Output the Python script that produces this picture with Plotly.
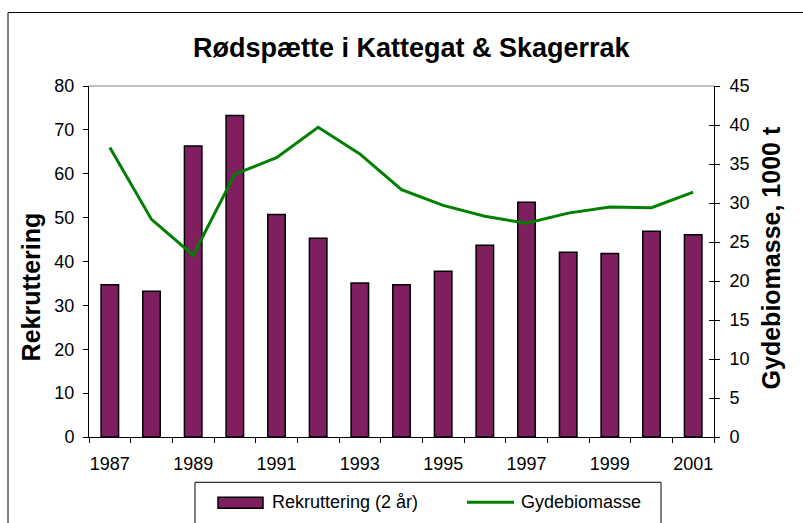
import plotly.graph_objects as go

# Rødspætte (plaice) in Kattegat & Skagerrak
years = list(range(1987, 2002))
rekruttering = [34.7, 33.2, 66.3, 73.3, 50.7, 45.3, 35.1, 34.7, 37.8, 43.7,
                53.5, 42.1, 41.8, 46.9, 46.1]
gydebiomasse = [37.1, 27.9, 23.3, 33.7, 35.8, 39.7, 36.3, 31.7, 29.7, 28.3,
                27.4, 28.7, 29.5, 29.4, 31.4]
label_years = [1987, 1989, 1991, 1993, 1995, 1997, 1999, 2001]
left_ticks = [0, 10, 20, 30, 40, 50, 60, 70, 80]
right_ticks = [0, 5, 10, 15, 20, 25, 30, 35, 40, 45]

W, H = 803, 523
PL, PR, PT, PB = 89, 714, 85.5, 436.7  # plot-area edges in pixels

BAR_COLOR = "#7F1F5F"
LINE_COLOR = "#008000"
FONT = "Liberation Sans, Arial, sans-serif"
TICK_SIZE = 18


def xp(px):
    return (px - PL) / (PR - PL)


def yp(py):
    return (PB - py) / (PB - PT)


fig = go.Figure()
fig.add_trace(go.Bar(
    x=years, y=rekruttering, name="Rekruttering (2 år)",
    marker=dict(color=BAR_COLOR, line=dict(color="black", width=1.5)),
    width=0.42, yaxis="y", xaxis="x",
))
fig.add_trace(go.Scatter(
    x=years, y=gydebiomasse, name="Gydebiomasse", mode="lines",
    line=dict(color=LINE_COLOR, width=3), yaxis="y2", xaxis="x",
))
# carrier for the inward half of the right-hand tick marks
fig.add_trace(go.Scatter(
    x=[years[0]], y=[None], yaxis="y3", xaxis="x", showlegend=False,
    hoverinfo="skip", mode="lines",
))

boundaries = [y - 0.5 for y in years] + [years[-1] + 0.5]

fig.update_layout(
    width=W, height=H,
    margin=dict(l=PL, r=W - PR, t=PT, b=H - PB),
    paper_bgcolor="white", plot_bgcolor="white",
    showlegend=False,
    font=dict(family=FONT, size=TICK_SIZE, color="black"),
    xaxis=dict(
        range=[1986.5, 2001.5], tickmode="array", tickvals=label_years,
        ticktext=[str(v) for v in label_years], ticks="",
        showgrid=False, zeroline=False, showline=True, linecolor="black",
        linewidth=1, ticklabelstandoff=10,
        tickfont=dict(size=TICK_SIZE, color="black", family=FONT),
        minor=dict(tickmode="array", tickvals=boundaries, ticks="outside",
                   ticklen=5, tickcolor="black", tickwidth=1, showgrid=False),
    ),
    yaxis=dict(
        range=[0, 80], tickmode="array", tickvals=left_ticks, ticks="outside",
        ticklen=5, tickcolor="black", showgrid=False, zeroline=False,
        showline=True, linecolor="black", linewidth=1, ticklabelstandoff=5,
        tickfont=dict(size=TICK_SIZE, color="black", family=FONT),
    ),
    yaxis2=dict(
        range=[0, 45], tickmode="array", tickvals=right_ticks, ticks="outside",
        ticklen=5, tickcolor="black", showgrid=False, zeroline=False,
        showline=True, linecolor="black", linewidth=1, overlaying="y",
        side="right", ticklabelstandoff=6,
        tickfont=dict(size=TICK_SIZE, color="black", family=FONT),
    ),
    yaxis3=dict(
        range=[0, 45], tickmode="array", tickvals=right_ticks, ticks="inside",
        ticklen=5, tickcolor="black", showgrid=False, zeroline=False,
        showline=False, overlaying="y", side="right", showticklabels=False,
    ),
)

shapes = [
    # outer chart frame
    dict(type="rect", xref="paper", yref="paper",
         x0=xp(8), x1=xp(W + 10), y0=yp(H + 10), y1=yp(12),
         line=dict(color="black", width=1), fillcolor="rgba(0,0,0,0)",
         layer="below"),
    # grey top edge of the plot area
    dict(type="line", xref="paper", yref="paper", x0=0, x1=1, y0=1, y1=1,
         line=dict(color="#808080", width=1)),
    # legend frame
    dict(type="rect", xref="paper", yref="paper",
         x0=xp(195), x1=xp(661), y0=yp(H + 10), y1=yp(482),
         line=dict(color="black", width=1), fillcolor="white"),
    # legend swatch for the bars
    dict(type="rect", xref="paper", yref="paper",
         x0=xp(218), x1=xp(263), y0=yp(508), y1=yp(497),
         line=dict(color="black", width=1.5), fillcolor=BAR_COLOR),
    # legend swatch for the line
    dict(type="line", xref="paper", yref="paper",
         x0=xp(467), x1=xp(514), y0=yp(502), y1=yp(502),
         line=dict(color=LINE_COLOR, width=3)),
]

annotations = [
    dict(text="<b>Rødspætte i Kattegat & Skagerrak</b>", xref="paper",
         yref="paper", x=xp(412.5), y=yp(47), xanchor="center",
         yanchor="middle", showarrow=False,
         font=dict(size=27, family=FONT, color="black")),
    dict(text="<b>Rekruttering</b>", xref="paper", yref="paper",
         x=xp(31), y=yp(287), textangle=-90, xanchor="center",
         yanchor="middle", showarrow=False,
         font=dict(size=25, family=FONT, color="black")),
    dict(text="<b>Gydebiomasse, 1000 t</b>", xref="paper", yref="paper",
         x=xp(771), y=yp(258), textangle=-90, xanchor="center",
         yanchor="middle", showarrow=False,
         font=dict(size=25, family=FONT, color="black")),
    dict(text="Rekruttering (2 år)", xref="paper", yref="paper",
         x=xp(270), y=yp(502), xanchor="left", yanchor="middle",
         showarrow=False, font=dict(size=TICK_SIZE, family=FONT, color="black")),
    dict(text="Gydebiomasse", xref="paper", yref="paper",
         x=xp(519), y=yp(502), xanchor="left", yanchor="middle",
         showarrow=False, font=dict(size=TICK_SIZE, family=FONT, color="black")),
]

fig.update_layout(shapes=shapes, annotations=annotations)
fig.write_html("out.html")
